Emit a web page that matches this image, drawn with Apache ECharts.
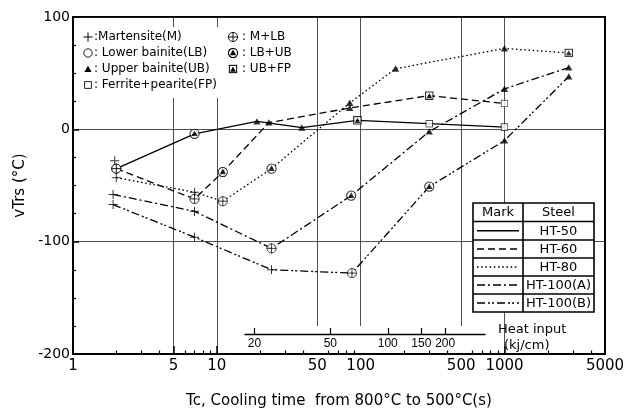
<!DOCTYPE html>
<html><head><meta charset="utf-8">
<script src="https://cdn.jsdelivr.net/npm/echarts@6/dist/echarts.min.js"></script>
<style>html,body{margin:0;padding:0;background:#fff}#c{width:634px;height:414px}</style>
</head><body><div id="c"></div>
<script>
// ---------- data ----------
const steels = ['HT-50', 'HT-60', 'HT-80', 'HT-100(A)', 'HT-100(B)'];
const ht50Tc = [2, 7, 19, 39, 95, 300, 1000];
const ht50Vtrs = [-35, -4, 7, 1.5, 8, 5, 2];
const ht50Marks = ['M+LB', 'LB+UB', 'UB', 'UB', 'UB+FP', 'FP', 'FP'];
const ht60Tc = [2, 7, 11, 23, 84, 300, 1000];
const ht60Vtrs = [-35, -62, -38, 6, 19, 30, 23];
const ht60Marks = ['M+LB', 'M+LB', 'LB+UB', 'UB', 'UB', 'UB+FP', 'FP'];
const ht80Tc = [2, 7, 11, 24, 84, 175, 1000, 2800];
const ht80Vtrs = [-43, -56, -64, -35, 23.5, 54, 72, 68];
const ht80Marks = ['M', 'M', 'M+LB', 'LB+UB', 'UB', 'UB', 'UB', 'UB+FP'];
const ht100aTc = [1.9, 7, 24, 86, 300, 1000, 2800];
const ht100aVtrs = [-58, -73, -106, -59, -2, 36, 55];
const ht100aMarks = ['M', 'M', 'M+LB', 'LB+UB', 'UB', 'UB', 'UB'];
const ht100bTc = [1.9, 7, 24, 87, 300, 1000, 2800];
const ht100bVtrs = [-67, -96, -125, -128, -51, -10, 47];
const ht100bMarks = ['M', 'M', 'M', 'M+LB', 'LB+UB', 'UB', 'UB'];
const extraTc = [1.95];
const extraVtrs = [-28];
const extraMarks = ['M'];
const xLabelValues = [1, 5, 10, 50, 100, 500, 1000, 5000];
const xMajorTicks = [5, 10, 50, 100, 500, 1000];
const xMinorTicks = [2, 3, 4, 6, 7, 8, 9, 20, 30, 40, 60, 70, 80, 90, 200, 300, 400, 600, 700, 800, 900, 2000, 3000, 4000];
const heatTicks = [20, 50, 100, 150, 200];
const markLegendLeft = [['M', ':Martensite(M)'], ['LB', ': Lower bainite(LB)'], ['UB', ': Upper bainite(UB)'], ['FP', ': Ferrite+pearite(FP)']];
const markLegendRight = [['M+LB', ': M+LB'], ['LB+UB', ': LB+UB'], ['UB+FP', ': UB+FP']];

// ---------- styles ----------
const FONT = 'DejaVu Sans';
const dashes = ['solid', [7, 4], [1.6, 2.6], [8, 3, 2, 3], [8, 3, 2, 2, 2, 3]];
const markSvg = {
  'M': '<path d="M12 1V23M1 12H23" stroke="#000" stroke-width="2.4" fill="none"/>',
  'LB': '<circle cx="12" cy="12" r="10" fill="#fff" stroke="#000" stroke-width="2.2"/>',
  'UB': '<path d="M12 2L23 21H1Z" fill="#000"/>',
  'FP': '<rect x="2" y="2" width="20" height="20" fill="#fff" stroke="#000" stroke-width="2.6"/>',
  'M+LB': '<circle cx="12" cy="12" r="10" fill="#fff" stroke="#000" stroke-width="2"/><path d="M12 1V23M1 12H23" stroke="#000" stroke-width="2"/>',
  'LB+UB': '<circle cx="12" cy="12" r="10" fill="#fff" stroke="#000" stroke-width="2.4"/><path d="M12 4.5L19 17H5Z" fill="#000"/>',
  'UB+FP': '<rect x="2" y="2" width="20" height="20" fill="#fff" stroke="#000" stroke-width="3.2"/><path d="M12 5L19.5 19H4.5Z" fill="#000"/>'
};
const markSize = { 'M': 10, 'LB': 10, 'UB': 8, 'FP': 8, 'M+LB': 11, 'LB+UB': 11, 'UB+FP': 9 };
function uri(m) {
  return 'data:image/svg+xml;charset=utf-8,' + encodeURIComponent('<svg xmlns="http://www.w3.org/2000/svg" viewBox="0 0 24 24" width="48" height="48">' + markSvg[m] + '</svg>');
}

const allTc = [ht50Tc, ht60Tc, ht80Tc, ht100aTc, ht100bTc];
const allV = [ht50Vtrs, ht60Vtrs, ht80Vtrs, ht100aVtrs, ht100bVtrs];
const allM = [ht50Marks, ht60Marks, ht80Marks, ht100aMarks, ht100bMarks];

const series = [];
steels.forEach((s, k) => {
  series.push({
    type: 'line', name: s, xAxisIndex: 0, yAxisIndex: 0,
    data: allTc[k].map((t, i) => [t, allV[k][i]]),
    symbol: 'none', showSymbol: false, silent: true, z: 2,
    lineStyle: { color: '#000', width: 1.3, type: dashes[k] }
  });
});
[...allTc, extraTc].forEach((tcArr, k) => {
  const vArr = k < 5 ? allV[k] : extraVtrs;
  const mArr = k < 5 ? allM[k] : extraMarks;
  series.push({
    type: 'scatter', xAxisIndex: 0, yAxisIndex: 0, silent: true, z: 5,
    data: tcArr.map((t, i) => ({ value: [t, vArr[i]], symbol: 'image://' + uri(mArr[i]), symbolSize: markSize[mArr[i]] }))
  });
});

// ---------- graphics (legends) ----------
const g = [];
g.push({ type: 'rect', shape: { x: 77, y: 27, width: 225, height: 71 }, style: { fill: '#fff' }, z: 1 });
markLegendLeft.forEach((r, i) => {
  const y = 37 + i * 16;
  const sz = markSize[r[0]];
  g.push({ type: 'image', style: { image: uri(r[0]), x: 88 - sz / 2, y: y - sz / 2, width: sz, height: sz }, z: 6 });
  g.push({ type: 'text', style: { text: r[1], x: 94, y: y, font: '12px ' + FONT, fill: '#000', verticalAlign: 'middle' }, z: 6 });
});
markLegendRight.forEach((r, i) => {
  const y = 37 + i * 16;
  const sz = markSize[r[0]];
  g.push({ type: 'image', style: { image: uri(r[0]), x: 233 - sz / 2, y: y - sz / 2, width: sz, height: sz }, z: 6 });
  g.push({ type: 'text', style: { text: r[1], x: 242, y: y, font: '12px ' + FONT, fill: '#000', verticalAlign: 'middle' }, z: 6 });
});
const tX = 473, tY = 203, tW = 121, colX = 523;
const rowYs = [203, 221.5, 240, 258, 276, 294, 312];
g.push({ type: 'rect', shape: { x: tX, y: tY, width: tW, height: rowYs[6] - tY }, style: { fill: '#fff', stroke: '#000', lineWidth: 1.6 }, z: 3 });
for (let i = 1; i < 6; i++) g.push({ type: 'line', shape: { x1: tX, y1: rowYs[i], x2: tX + tW, y2: rowYs[i] }, style: { stroke: '#000', lineWidth: 1.6 }, z: 4 });
g.push({ type: 'line', shape: { x1: colX, y1: tY, x2: colX, y2: rowYs[6] }, style: { stroke: '#000', lineWidth: 1.6 }, z: 4 });
g.push({ type: 'text', style: { text: 'Mark', x: (tX + colX) / 2, y: (rowYs[0] + rowYs[1]) / 2, font: '13px ' + FONT, fill: '#000', align: 'center', verticalAlign: 'middle' }, z: 5 });
g.push({ type: 'text', style: { text: 'Steel', x: (colX + tX + tW) / 2, y: (rowYs[0] + rowYs[1]) / 2, font: '13px ' + FONT, fill: '#000', align: 'center', verticalAlign: 'middle' }, z: 5 });
steels.forEach((s, k) => {
  const cy = (rowYs[k + 1] + rowYs[k + 2]) / 2;
  g.push({ type: 'text', style: { text: s, x: (colX + tX + tW) / 2, y: cy + 0.5, font: '13px ' + FONT, fill: '#000', align: 'center', verticalAlign: 'middle' }, z: 5 });
  g.push({ type: 'line', shape: { x1: tX + 4, y1: cy, x2: colX - 4, y2: cy }, style: { stroke: '#000', lineWidth: 1.3, lineDash: dashes[k] === 'solid' ? null : dashes[k] }, z: 5 });
});
g.push({ type: 'rect', shape: { x: 245, y: 326, width: 242, height: 27 }, style: { fill: '#fff' }, z: 1 });
g.push({ type: 'text', style: { text: 'Heat input', x: 498, y: 330, font: '13px ' + FONT, fill: '#000', verticalAlign: 'middle' }, z: 6 });
g.push({ type: 'text', style: { text: '(kj/cm)', x: 504, y: 346, font: '13px ' + FONT, fill: '#000', verticalAlign: 'middle' }, z: 6 });

const chart = echarts.init(document.getElementById('c'), null, { renderer: 'canvas' });
chart.setOption({
  animation: false,
  backgroundColor: '#fff',
  grid: [
    { left: 73, top: 17, width: 532, height: 346, show: true, borderColor: '#000', borderWidth: 2, backgroundColor: 'transparent' },
    { left: 245, top: 300, width: 240, height: 34, show: false }
  ],
  xAxis: [
    {
      type: 'log', gridIndex: 0, min: 1, max: 5000, logBase: 10, position: 'bottom', z: 0,
      name: 'Tc, Cooling time  from 800°C to 500°C(s)', nameLocation: 'middle', nameGap: 40,
      nameTextStyle: { fontFamily: FONT, fontSize: 15, color: '#000' },
      axisLine: { show: true, onZero: false, lineStyle: { color: '#000', width: 2 } },
      axisTick: { show: true, inside: true, length: 8, customValues: xMajorTicks, lineStyle: { color: '#000', width: 1.5 } },
      axisLabel: { show: true, customValues: xLabelValues, margin: 5, fontFamily: FONT, fontSize: 15, color: '#000', formatter: v => String(v) },
      splitLine: { show: true, lineStyle: { color: '#222', width: 0.8 } },
      minorTick: { show: false }, minorSplitLine: { show: false }
    },
    {
      type: 'log', gridIndex: 0, min: 1, max: 5000, logBase: 10, position: 'bottom', z: 1,
      axisLine: { show: false, onZero: false },
      axisTick: { show: true, inside: true, length: 3.5, customValues: xMinorTicks, lineStyle: { color: '#000', width: 1.2 } },
      axisLabel: { show: false }, splitLine: { show: false }
    },
    {
      type: 'log', gridIndex: 1, min: 17.86, max: 323.3, logBase: 10, position: 'bottom', z: 3,
      axisLine: { show: true, onZero: false, lineStyle: { color: '#000', width: 1.4 } },
      axisTick: { show: true, inside: true, length: 6, customValues: heatTicks, lineStyle: { color: '#000', width: 1.2 } },
      axisLabel: { show: true, customValues: heatTicks, margin: 4, fontFamily: 'Liberation Sans', fontSize: 12, color: '#000', formatter: v => String(v) },
      splitLine: { show: false }
    }
  ],
  yAxis: [
    {
      type: 'value', gridIndex: 0, min: -200, max: 100, interval: 100,
      name: 'vTrs (°C)', nameLocation: 'middle', nameGap: 38, nameRotate: 90,
      nameTextStyle: { fontFamily: FONT, fontSize: 15, color: '#000' },
      axisLine: { show: true, lineStyle: { color: '#000', width: 2 } },
      axisTick: { show: true, inside: true, length: 6, lineStyle: { color: '#000', width: 1.5 } },
      minorTick: { show: true, splitNumber: 4, length: 3, lineStyle: { color: '#000', width: 1.2 } },
      axisLabel: { margin: 3, fontFamily: FONT, fontSize: 14, color: '#000' },
      splitLine: { show: true, lineStyle: { color: '#222', width: 0.8 } }
    },
    { type: 'value', gridIndex: 1, show: false, min: 0, max: 1 }
  ],
  graphic: { elements: g },
  series: series
});
</script></body></html>
